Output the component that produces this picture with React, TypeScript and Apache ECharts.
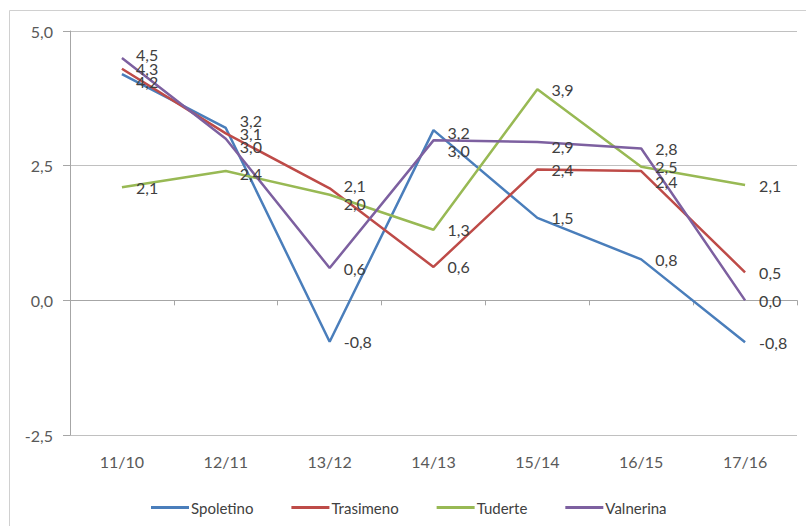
import React, { useEffect, useRef } from "react";
import * as echarts from "echarts";

const categories = ["11/10", "12/11", "13/12", "14/13", "15/14", "16/15", "17/16"];
const spoletino = [4.2, 3.2, -0.77, 3.16, 1.53, 0.76, -0.78];
const trasimeno = [4.3, 3.1, 2.08, 0.62, 2.43, 2.4, 0.52];
const tuderte = [2.1, 2.4, 1.96, 1.31, 3.92, 2.48, 2.14];
const valnerina = [4.5, 3.0, 0.6, 2.97, 2.94, 2.82, 0.0];
const yTicks = { min: -2.5, max: 5, interval: 2.5 };

const seriesDefs = [
  { name: "Spoletino", data: spoletino, color: "#4A7EBB" },
  { name: "Trasimeno", data: trasimeno, color: "#BE4B48" },
  { name: "Tuderte", data: tuderte, color: "#98B954" },
  { name: "Valnerina", data: valnerina, color: "#7D60A0" },
];

// vertical nudges (px) of crowded data labels, as in the reference
const labelNudge: Record<string, Record<number, number>> = {
  Spoletino: { 0: 7, 1: -7, 3: 2 },
  Trasimeno: { 2: -3, 5: 10 },
  Tuderte: { 1: 2, 2: 9 },
  Valnerina: { 0: -3, 1: 8, 3: 10, 4: 5 },
};

const FONT = "Lato, 'Open Sans', sans-serif";
const fmt = (v: number) => v.toFixed(1).replace(".", ",");

export default function App() {
  const ref = useRef<HTMLDivElement>(null);
  useEffect(() => {
    if (!ref.current) return;
    const chart = echarts.init(ref.current, undefined, { renderer: "svg" });
    chart.setOption({
      animation: false,
      backgroundColor: "#ffffff",
      textStyle: { fontFamily: FONT },
      graphic: [
        {
          type: "rect",
          shape: { x: 9.5, y: 10.5, width: 900, height: 700 },
          style: { fill: "none", stroke: "#d0d0d0", lineWidth: 1 },
          silent: true,
        },
      ],
      grid: { left: 70, right: 9, top: 31, bottom: 91, containLabel: false },
      legend: {
        left: 146,
        top: 495,
        icon: "rect",
        itemWidth: 38,
        itemHeight: 3,
        itemGap: 38,
        textStyle: { color: "#404040", fontSize: 15, fontFamily: FONT, padding: [0, 0, 0, -3] },
        data: seriesDefs.map((s) => s.name),
      },
      xAxis: [
        {
          type: "category",
          data: categories,
          boundaryGap: true,
          position: "bottom",
          axisLine: { onZero: true, lineStyle: { color: "#a6a6a6", width: 1 } },
          axisTick: { show: true, length: 5, lineStyle: { color: "#a6a6a6" } },
          axisLabel: { show: false },
          splitLine: { show: false },
        },
        {
          type: "category",
          data: categories,
          boundaryGap: true,
          position: "bottom",
          axisLine: { show: false, onZero: false },
          axisTick: { show: false },
          axisLabel: { show: true, color: "#595959", fontSize: 16, margin: 18, fontFamily: FONT },
          splitLine: { show: false },
        },
      ],
      yAxis: {
        type: "value",
        min: yTicks.min,
        max: yTicks.max,
        interval: yTicks.interval,
        axisLine: { show: true, lineStyle: { color: "#a6a6a6", width: 1 } },
        axisTick: { show: true, length: 7, lineStyle: { color: "#a6a6a6" } },
        axisLabel: { color: "#595959", fontSize: 16, margin: 17, formatter: (v: number) => fmt(v), fontFamily: FONT },
        splitLine: { show: true, lineStyle: { color: "#c0c0c0", width: 1 } },
      },
      series: seriesDefs.map((s) => ({
        name: s.name,
        type: "line",
        xAxisIndex: 0,
        data: s.data.map((v, i) => {
          const dy = (labelNudge[s.name] || {})[i] || 0;
          return dy ? { value: v, label: { offset: [0, dy] } } : v;
        }),
        showSymbol: true,
        symbol: "circle",
        symbolSize: 0.1,
        lineStyle: { color: s.color, width: 2.5 },
        itemStyle: { color: s.color },
        label: {
          show: true,
          position: "right",
          distance: 14,
          color: "#404040",
          fontSize: 16,
          fontFamily: FONT,
          formatter: (p: any) => fmt(p.value),
        },
      })),
    });
    return () => chart.dispose();
  }, []);
  return (
    <div
      ref={ref}
      style={{ position: "fixed", left: 0, top: 0, width: 806, height: 526 }}
    />
  );
}
